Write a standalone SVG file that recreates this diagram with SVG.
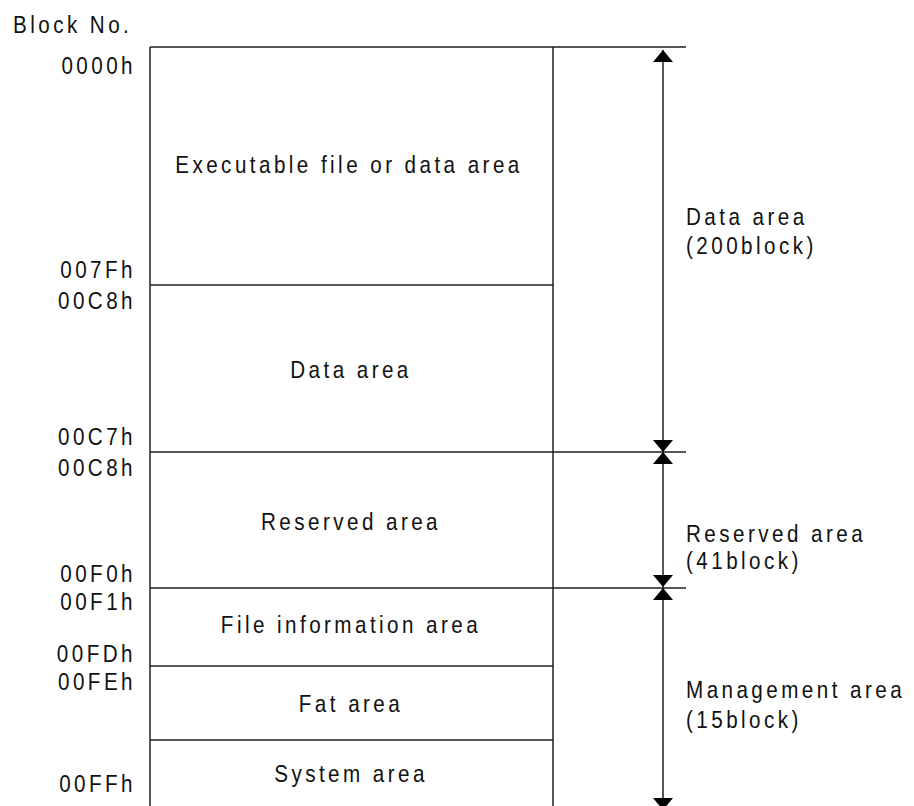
<svg xmlns="http://www.w3.org/2000/svg" width="914" height="806" viewBox="0 0 914 806">
<style>
.t{font-family:"Liberation Sans",Arial,sans-serif;font-size:24px;letter-spacing:4px;fill:#111}
.e{text-anchor:end}
.m{text-anchor:middle}
.ln{stroke:#222;stroke-width:1.5;fill:none}
.ah{fill:#000}
</style>
<defs>
<polygon id="up" class="ah" points="0,0 -10,12 10,12"/>
<polygon id="dn" class="ah" points="0,0 -10,-12 10,-12"/>
</defs>
<rect width="914" height="806" fill="#fff"/>
<text class="t" transform="translate(13,33) scale(0.86,1)">Block No.</text>
<g id="labels">
<text class="t e" transform="translate(136,74) scale(0.86,1)">0000h</text>
<text class="t e" transform="translate(136,278) scale(0.86,1)">007Fh</text>
<text class="t e" transform="translate(136,309) scale(0.86,1)">00C8h</text>
<text class="t e" transform="translate(136,445) scale(0.86,1)">00C7h</text>
<text class="t e" transform="translate(136,476) scale(0.86,1)">00C8h</text>
<text class="t e" transform="translate(136,582) scale(0.86,1)">00F0h</text>
<text class="t e" transform="translate(136,610) scale(0.86,1)">00F1h</text>
<text class="t e" transform="translate(136,662) scale(0.86,1)">00FDh</text>
<text class="t e" transform="translate(136,690) scale(0.86,1)">00FEh</text>
<text class="t e" transform="translate(136,792) scale(0.86,1)">00FFh</text>
</g>
<g id="memory-map">
<path class="ln" d="M150,47V806M553,47V806M150,47H686M150,285H553M150,452H686M150,588H686M150,666H553M150,740H553"/>
</g>
<g id="exec"><text class="t m" transform="translate(349,173) scale(0.86,1)">Executable file or data area</text></g>
<g id="data"><text class="t m" transform="translate(351,378) scale(0.86,1)">Data area</text></g>
<g id="reserved"><text class="t m" transform="translate(351,530) scale(0.86,1)">Reserved area</text></g>
<g id="fileinfo"><text class="t m" transform="translate(351,633) scale(0.86,1)">File information area</text></g>
<g id="fat"><text class="t m" transform="translate(351,712) scale(0.86,1)">Fat area</text></g>
<g id="system"><text class="t m" transform="translate(351,782) scale(0.86,1)">System area</text></g>
<g id="connectors">
<path class="ln" d="M663,50V452M663,452V588M663,588V806"/>
<use href="#up" x="663" y="50"/>
<use href="#dn" x="663" y="452"/>
<use href="#up" x="663" y="452"/>
<use href="#dn" x="663" y="587"/>
<use href="#up" x="663" y="588"/>
<use href="#dn" x="663" y="810"/>
</g>
<g id="dim-data"><text class="t" transform="translate(686,225) scale(0.86,1)">Data area</text><text class="t" transform="translate(686,254) scale(0.86,1)">(200block)</text></g>
<g id="dim-reserved"><text class="t" transform="translate(686,542) scale(0.86,1)">Reserved area</text><text class="t" transform="translate(686,569) scale(0.86,1)">(41block)</text></g>
<g id="dim-management"><text class="t" transform="translate(686,698) scale(0.86,1)">Management area</text><text class="t" transform="translate(686,728) scale(0.86,1)">(15block)</text></g>
</svg>
